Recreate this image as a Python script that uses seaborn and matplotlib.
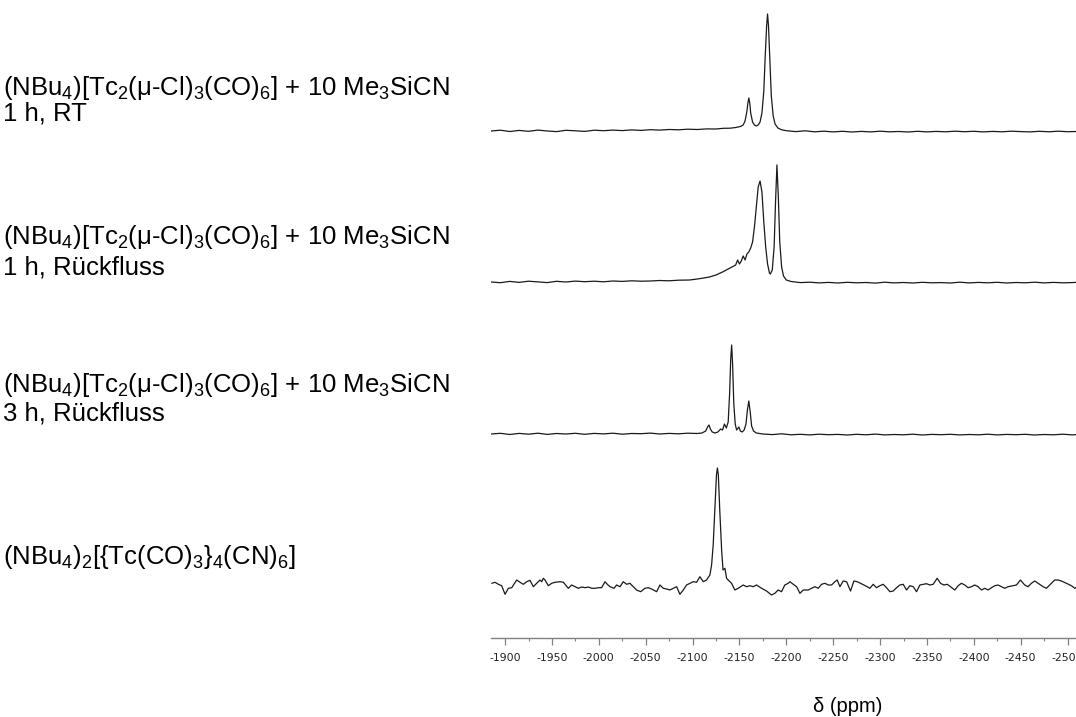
import numpy as np
import pandas as pd
import matplotlib
matplotlib.use("Agg")
import matplotlib.pyplot as plt
from matplotlib.ticker import MultipleLocator
import seaborn as sns

# ---------------- data (ppm, intensity above own baseline) ----------------
spec1_ppm = [-1885, -1895, -1905, -1915, -1925, -1935, -1945, -1955, -1965, -1975,
             -1985, -1995, -2005, -2015, -2025, -2035, -2045, -2055, -2065, -2075,
             -2085, -2095, -2105, -2115, -2125, -2133, -2140, -2146, -2151, -2154,
             -2156, -2158, -2159, -2160, -2161, -2162, -2164, -2166, -2168, -2170,
             -2172, -2174, -2176, -2177.5, -2179, -2180, -2181, -2182.5, -2184, -2186,
             -2188, -2191, -2195, -2200, -2210, -2220, -2230, -2240, -2250, -2260,
             -2270, -2280, -2290, -2300, -2310, -2320, -2330, -2340, -2350, -2360,
             -2370, -2380, -2390, -2400, -2410, -2420, -2430, -2440, -2450, -2460,
             -2470, -2480, -2490, -2500, -2510]
spec1_int = [0.0, 0.8, -0.5, 0.6, -0.3, 0.9, 0.0, -0.6, 0.7, 0.2,
             -0.4, 0.8, 0.3, 0.9, 0.4, 1.1, 0.6, 1.3, 0.9, 1.5,
             1.2, 1.8, 1.5, 2.1, 2.0, 2.7, 2.8, 3.5, 4.5, 6.0,
             10, 20, 28, 33, 28, 18, 9, 6, 5, 6,
             9, 18, 40, 75, 105, 117, 105, 70, 35, 15,
             7, 3, 1.2, 0.3, -0.6, 0.2, -0.8, -0.2, -0.9, -0.3,
             -1.0, -0.4, -0.9, -0.2, -0.8, -0.5, -1.0, -0.3, -0.9, -0.4,
             -0.8, -0.2, -0.7, -0.3, -0.9, -0.4, -0.8, -0.2, -0.6, -0.9,
             -0.3, -0.8, -0.2, -0.7, -0.5]

spec2_ppm = [-1885, -1895, -1905, -1915, -1925, -1935, -1945, -1955, -1965, -1975,
             -1985, -1995, -2005, -2015, -2025, -2035, -2045, -2055, -2065, -2075,
             -2085, -2097, -2105, -2112, -2118, -2125, -2132, -2138, -2142, -2146,
             -2148, -2150, -2152, -2154, -2156, -2158, -2160, -2162, -2164, -2166,
             -2168, -2170, -2172, -2174, -2176, -2178, -2180, -2182, -2183, -2185,
             -2187, -2188.5, -2190, -2191.5, -2193, -2195, -2197, -2200, -2205, -2215,
             -2225, -2235, -2245, -2255, -2265, -2275, -2285, -2295, -2305, -2315,
             -2325, -2335, -2345, -2355, -2365, -2375, -2385, -2395, -2405, -2415,
             -2425, -2435, -2445, -2455, -2465, -2475, -2485, -2495, -2505, -2510]
spec2_int = [0.0, -0.7, 0.6, -0.4, 0.8, 0.1, -0.6, 0.7, 0.0, 0.9,
             0.3, 0.8, 0.2, 1.0, 0.6, 1.2, 0.8, 1.0, 1.5, 1.2,
             1.8, 2.0, 3.0, 4.0, 5.0, 7.0, 10, 13, 15, 17,
             22, 18, 21, 26, 22, 28, 30, 34, 40, 55,
             75, 95, 101, 90, 60, 35, 18, 9, 8, 12,
             35, 80, 117, 85, 40, 15, 6, 2, 0.5, -0.6,
             -0.2, -0.9, -0.4, -1.0, -0.3, -0.8, -0.5, -1.1, -0.2, -0.9,
             -0.5, -1.0, -0.3, -0.8, -0.6, -1.0, -0.2, -0.9, -0.4, -0.8,
             -0.3, -1.0, -0.5, -0.8, -0.2, -0.9, -0.4, -0.8, -0.6, -0.3]

spec3_ppm = [-1885, -1895, -1905, -1915, -1925, -1935, -1945, -1955, -1965, -1975,
             -1985, -1995, -2005, -2015, -2025, -2035, -2045, -2055, -2065, -2075,
             -2085, -2095, -2105, -2110, -2114, -2116, -2117.5, -2119, -2121, -2124,
             -2127, -2130, -2132, -2134, -2136, -2138, -2139.5, -2140.7, -2141.7, -2142.7,
             -2144, -2145.5, -2147, -2149.5, -2151, -2153, -2155, -2157, -2158.5, -2160,
             -2161.5, -2163, -2165, -2168, -2175, -2185, -2195, -2205, -2215, -2225,
             -2235, -2245, -2255, -2265, -2275, -2285, -2295, -2305, -2315, -2325,
             -2335, -2345, -2355, -2365, -2375, -2385, -2395, -2405, -2415, -2425,
             -2435, -2445, -2455, -2465, -2475, -2485, -2495, -2505, -2510]
spec3_int = [0.0, 0.7, -0.5, 0.6, -0.2, 0.8, -0.4, 0.5, 0.0, 0.7,
             -0.3, 0.6, 0.1, 0.8, -0.2, 0.5, 0.3, 0.9, 0.0, 0.6,
             0.2, 0.8, 0.5, 1.0, 3.0, 7.0, 9.0, 5.0, 2.0, 1.0,
             2.0, 5.0, 4.0, 10, 6.0, 12, 40, 75, 89, 70,
             30, 10, 4.0, 7.0, 3.0, 2.0, 4.0, 10, 24, 33,
             22, 8.0, 3.0, 1.0, 0.0, -0.6, 0.2, -0.8, -0.3, -0.9,
             -0.2, -0.7, -0.4, -1.0, -0.3, -0.8, -0.1, -0.9, -0.5, -0.8,
             -0.2, -1.0, -0.4, -0.7, -0.3, -0.9, -0.5, -0.8, -0.2, -0.9,
             -0.4, -0.7, -0.3, -1.0, -0.5, -0.8, -0.2, -0.9, -0.5]

spec4_ppm = [-1885.8, -1889.3, -1892.9, -1896.4, -1900.0, -1903.5, -1907.1, -1912.4, -1916.0, -1919.5,
             -1923.1, -1926.6, -1930.2, -1933.7, -1937.3, -1939.1, -1940.8, -1942.6, -1946.2, -1949.7,
             -1953.3, -1958.6, -1962.2, -1967.5, -1971.0, -1974.6, -1978.2, -1981.7, -1985.3, -1988.8,
             -1992.4, -1995.9, -1999.5, -2003.0, -2006.6, -2009.1, -2011.9, -2016.2, -2019.0, -2022.6,
             -2026.1, -2029.7, -2033.2, -2036.8, -2040.3, -2044.6, -2049.2, -2052.8, -2056.3, -2061.7,
             -2065.2, -2068.8, -2072.3, -2075.9, -2079.4, -2083.0, -2086.5, -2090.1, -2093.6, -2097.2,
             -2100.7, -2104.3, -2107.8, -2111.4, -2114.9, -2118.5, -2120.3, -2122.0, -2124.0, -2125.5,
             -2126.5, -2127.5, -2129.0, -2131.0, -2132.5, -2134.5, -2136.3, -2138.0, -2141.6, -2145.1,
             -2148.7, -2154.0, -2157.6, -2161.1, -2164.7, -2168.2, -2173.6, -2178.9, -2184.2, -2187.8,
             -2191.3, -2194.9, -2198.4, -2202.0, -2203.9, -2207.4, -2211.0, -2214.5, -2218.1, -2223.4,
             -2226.9, -2230.5, -2234.1, -2237.6, -2241.2, -2244.7, -2248.3, -2251.8, -2254.3, -2257.2,
             -2260.7, -2264.3, -2268.5, -2272.1, -2275.6, -2279.2, -2282.7, -2286.3, -2289.1, -2292.7,
             -2296.2, -2299.8, -2303.3, -2306.9, -2310.5, -2314.0, -2317.6, -2321.1, -2324.7, -2328.2,
             -2331.8, -2335.4, -2338.9, -2342.5, -2346.0, -2349.5, -2353.1, -2356.6, -2360.9, -2364.5,
             -2368.0, -2371.6, -2375.1, -2379.7, -2383.3, -2386.8, -2390.4, -2393.9, -2397.5, -2401.0,
             -2404.6, -2408.2, -2411.7, -2415.3, -2418.8, -2422.4, -2425.9, -2429.5, -2433.0, -2436.6,
             -2441.9, -2445.5, -2449.7, -2454.3, -2457.9, -2461.4, -2465.0, -2468.6, -2473.9, -2477.4,
             -2482.8, -2486.3, -2489.9, -2493.4, -2498.8, -2504.1, -2507.7, -2510.0]
spec4_int = [1.7, 2.7, 0.7, -0.7, -9.3, -3.3, -2.7, 5.0, 2.7, 0.7,
             3.3, 4.7, -1.7, 1.7, 5.0, 3.3, 6.7, 5.0, -0.7, 1.7,
             2.7, 3.3, 2.7, -3.3, 0.0, -1.7, -3.3, -2.0, -2.7, -2.0,
             -3.3, -3.3, -2.7, -2.7, 3.3, 0.7, -1.7, -3.3, 0.0, -1.7,
             3.3, 0.7, 1.7, -1.7, -5.0, -6.7, -3.3, -2.7, -4.0, -6.7,
             0.0, -3.3, -4.0, -5.0, -3.3, -1.7, -9.3, -5.0, 0.0, 1.7,
             3.3, 2.7, 8.3, 3.3, 5.0, 10, 20, 40, 80, 110,
             117, 110, 75, 35, 15, 16.7, 6.7, 5.0, 1.7, -5.0,
             -3.3, 0.0, -1.7, -0.7, -1.7, 0.0, -3.3, -6.0, -10, -8.3,
             -5.0, -6.7, 0.0, 1.7, 3.3, 0.7, -1.7, -8.3, -5.0, -5.0,
             -3.3, -1.7, -3.3, 0.7, 1.7, 0.0, 0.0, 3.3, 5.0, -1.7,
             4.0, 3.3, -6.0, 4.0, 3.3, 1.7, 0.0, -1.7, -3.3, 0.7,
             -2.7, -0.7, 0.7, -2.7, -6.7, -6.0, -2.7, 0.0, 0.7, -5.0,
             -0.7, -1.7, -6.7, 0.0, 0.7, 1.3, 0.0, 0.7, 6.7, 1.7,
             0.0, 0.7, -1.7, -5.0, -0.7, 1.7, 0.0, -2.7, -1.7, 0.0,
             -1.7, -5.0, -3.3, -5.0, -2.7, -0.7, 0.0, -1.7, -3.3, -1.7,
             -0.7, 0.0, 5.0, 0.0, -1.7, 1.7, 4.0, 1.7, -1.7, -3.3,
             1.7, 5.0, 5.0, 4.0, 1.7, -0.7, -3.3, -2.0]

spectra_ppm = [spec1_ppm, spec2_ppm, spec3_ppm, spec4_ppm]
spectra_int = [spec1_int, spec2_int, spec3_int, spec4_int]
baselines = [507, 356, 204, 53]          # vertical stacking offsets

label_lines = [
    ("(NBu$_4$)[Tc$_2$(μ-Cl)$_3$(CO)$_6$] + 10 Me$_3$SiCN", "1 h, RT"),
    ("(NBu$_4$)[Tc$_2$(μ-Cl)$_3$(CO)$_6$] + 10 Me$_3$SiCN", "1 h, Rückfluss"),
    ("(NBu$_4$)[Tc$_2$(μ-Cl)$_3$(CO)$_6$] + 10 Me$_3$SiCN", "3 h, Rückfluss"),
    ("(NBu$_4$)$_2$[{Tc(CO)$_3$}$_4$(CN)$_6$]", None),
]
label_y_px = [(88, 113), (237, 268), (385, 414), (557, None)]

x_label = "δ (ppm)"

# ---------------- styling ----------------
sns.set_style("white")
plt.rcParams["font.family"] = ["Liberation Sans", "DejaVu Sans"]
plt.rcParams["mathtext.fontset"] = "custom"
plt.rcParams["mathtext.rm"] = "Liberation Sans"
plt.rcParams["mathtext.it"] = "Liberation Sans"
plt.rcParams["axes.unicode_minus"] = False
plt.rcParams["text.color"] = "black"

rows = []
for i, (pp, ii) in enumerate(zip(spectra_ppm, spectra_int)):
    for p, v in zip(pp, ii):
        rows.append({"ppm": p, "y": v + baselines[i], "spectrum": i})
df = pd.DataFrame(rows)

W, H = 1076, 717
fig = plt.figure(figsize=(W / 100, H / 100), dpi=100)
ax = fig.add_axes([491 / W, (H - 638) / H, (W - 491) / W, 638 / H])

sns.lineplot(data=df, x="ppm", y="y", units="spectrum", estimator=None,
             sort=False, color="#1a1a1a", linewidth=0.9, ax=ax)

ax.set_xlim(-1885, -2509)
ax.set_ylim(0, 638)
ax.set_xlabel("")
ax.set_ylabel("")
ax.set_yticks([])
for s in ["top", "left", "right"]:
    ax.spines[s].set_visible(False)
ax.spines["bottom"].set_color("#808080")
ax.spines["bottom"].set_linewidth(1.0)
ax.xaxis.set_major_locator(MultipleLocator(50))
ax.xaxis.set_minor_locator(MultipleLocator(25))
ax.tick_params(axis="x", which="major", length=5, width=0.9, color="#808080",
               labelsize=7.8, labelcolor="#222222", pad=6, direction="out")
ax.tick_params(axis="x", which="minor", length=2.5, width=0.8, color="#808080",
               direction="out")
ax.xaxis.set_tick_params(bottom=True, which="both")
for lab in ax.get_xticklabels():
    lab.set_family("DejaVu Sans")

fig.text(848 / W, 1 - 707 / H, x_label, fontsize=14.5, ha="center", va="center",
         color="black")

for (l1, l2), (y1, y2) in zip(label_lines, label_y_px):
    fig.text(3 / W, 1 - y1 / H, l1, fontsize=18.5, ha="left", va="center", color="black")
    if l2:
        fig.text(3 / W, 1 - y2 / H, l2, fontsize=18.5, ha="left", va="center", color="black")

fig.savefig("out.png", dpi=100)
